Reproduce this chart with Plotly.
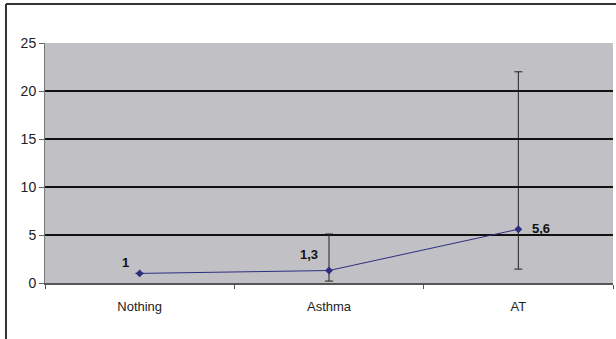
import plotly.graph_objects as go

categories = ["Nothing", "Asthma", "AT"]
values = [1.0, 1.3, 5.6]
err_plus = [0.0, 3.8, 16.4]
err_minus = [0.0, 1.1, 4.15]
labels = ["1", "1,3", "5,6"]
label_shift_x = [-14, -20, 23]
label_shift_y = [11, 16, 1]
y_ticks = [0, 5, 10, 15, 20, 25]

fig = go.Figure()
fig.add_trace(go.Scatter(
    x=categories, y=values,
    mode="lines+markers",
    line=dict(color="#2e2e80", width=1),
    marker=dict(symbol="diamond", size=6, color="#2e2e80"),
    error_y=dict(type="data", symmetric=False, array=err_plus, arrayminus=err_minus,
                 color="#222222", thickness=1, width=4),
    cliponaxis=False,
    showlegend=False,
))

for c, v, t, dx, dy in zip(categories, values, labels, label_shift_x, label_shift_y):
    fig.add_annotation(x=c, y=v, text=f"<b>{t}</b>", showarrow=False,
                       xshift=dx, yshift=dy,
                       font=dict(family="Liberation Sans, Arial", size=13, color="#111111"))

fig.update_layout(
    width=616, height=339,
    margin=dict(l=45, r=3, t=43, b=56),
    paper_bgcolor="white",
    plot_bgcolor="#c0c0c5",
    font=dict(family="Liberation Sans, Arial", size=12, color="#222222"),
    xaxis=dict(
        type="category", range=[-0.5, 2.5],
        showgrid=False, ticks="outside", tickson="boundaries", ticklen=4,
        tickcolor="#555555", showline=True, linecolor="#555555", linewidth=2,
        tickfont=dict(size=13, color="#222222"), ticklabelstandoff=10,
    ),
    yaxis=dict(
        range=[0, 25], tickvals=y_ticks, ticks="outside", ticklen=5,
        tickcolor="#666666", showgrid=True, gridcolor="#111111", gridwidth=1.5,
        showline=True, linecolor="#777777", linewidth=1, zeroline=False,
        tickfont=dict(size=14, color="#222222"),
    ),
    shapes=[
        dict(type="line", xref="paper", yref="paper", x0=-0.0687, x1=1.1,
             y0=1.1625, y1=1.1625, line=dict(color="#333333", width=2)),
        dict(type="line", xref="paper", yref="paper", x0=-0.0687, x1=-0.0687,
             y0=1.1625, y1=-0.3, line=dict(color="#333333", width=2)),
    ],
)

fig.write_html("out.html", config={"displayModeBar": False},
               post_script="document.body.style.margin='0';document.body.style.overflow='hidden';")
